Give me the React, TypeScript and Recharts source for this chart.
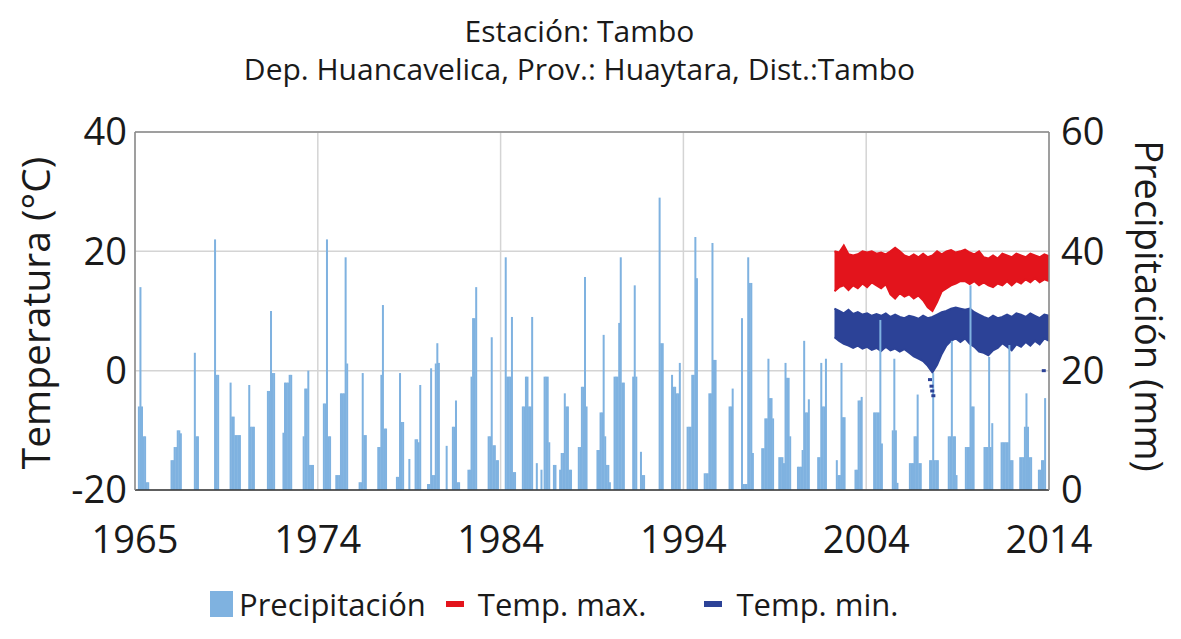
import { ComposedChart, Bar, Area, Scatter, XAxis, YAxis, CartesianGrid, ReferenceLine } from "recharts"

const W = 1181
const H = 639

// axis ticks
const xTickYears = [1965, 1974.8, 1984.6, 1994.4, 2004.2, 2014]
const xTickLabels = ["1965", "1974", "1984", "1994", "2004", "2014"]
const tempTicks = [-20, 0, 20, 40]
const rainTicks = [0, 20, 40, 60]

// rainy seasons: first month of each cluster, then monthly precipitation (mm)
const rainStart = [
  "1965-03", "1966-12", "1968-03", "1969-04", "1970-02", "1971-02", "1972-02", "1972-12",
  "1974-01", "1975-02", "1975-10", "1977-01", "1978-01", "1979-01", "1979-09", "1980-01",
  "1980-09", "1981-09", "1982-01", "1982-11", "1983-12", "1984-11", "1985-10", "1986-07",
  "1987-06", "1987-10", "1988-10", "1989-10", "1990-09", "1991-09", "1992-02", "1993-02",
  "1993-10", "1994-08", "1995-07", "1996-11", "1997-07", "1998-08", "1999-07", "2000-07",
  "2001-08", "2002-08", "2003-08", "2004-08", "2005-08", "2006-07", "2007-08", "2008-08",
  "2009-07", "2010-07", "2011-06", "2012-06", "2013-06",
]
const rainMm = [
  [14, 34, 14, 9, 9, 1.3, 1.3],
  [5, 5, 7.2, 7.2, 10, 10, 9.5],
  [23, 9, 9],
  [42, 19.3, 19.3],
  [18, 12.3, 12.3, 9.2, 9.2, 9.2, 9.2],
  [17.6, 10.6, 10.6, 10.6],
  [16.6, 16.6, 30, 19.6, 19.6],
  [9.6, 18, 18, 18, 19.3, 19.3],
  [9, 17, 17, 20, 4.2, 4.2, 4.2],
  [14.5, 14.5, 42, 9, 9],
  [2.5, 2.5, 2.5, 16.2, 16.2, 16.2, 39, 21.2],
  [1.3, 1.3, 19.6, 9.2, 9.2],
  [7.2, 7.2, 19.3, 31, 10.3, 10.3],
  [2.2, 2.2, 19.6, 11.4, 11.4],
  [5.2],
  [8.5, 8.5, 8, 17.6],
  [1, 1, 20.4, 2.5, 2.5, 21.2, 24.6, 21.3],
  [7.4],
  [10.6, 10.6, 15, 1.3, 1.3],
  [3.4, 3.4, 19, 28.8, 28.8, 34],
  [9, 9, 25.6, 7.5, 7.5, 5, 5],
  [39, 19, 19, 19, 29, 3, 3],
  [14, 14, 19, 19, 14, 14, 29],
  [4.5, 0, 0, 3.4, 0, 19, 19, 19, 8],
  [4.2, 4.2],
  [3.4, 6.2, 6.2, 16.2, 14, 14, 3.4, 3.4],
  [7.2, 7.2, 17.3, 17.3, 35.7, 14],
  [6.7, 6.7, 13, 13, 26, 9, 4.2, 4.2, 1.3],
  [19, 19, 19, 28, 39, 18, 18],
  [19, 34.3, 19],
  [6.4, 2.5, 2.5],
  [49, 24.6, 24.6],
  [19.3, 17.3, 17.3, 16.2, 16.2, 21.3],
  [10.6, 10.6, 10.6, 19.3, 19.3, 42.4, 35.5],
  [2.8, 2.8, 2.8, 16.2, 16.2, 41.4, 21.8, 21.8],
  [14, 14, 17],
  [28.8, 1, 1, 1, 39, 34.7, 34.7, 6.2],
  [7, 7, 12, 12, 22, 15.4, 15.4, 12],
  [5.5, 5.5, 5.5, 4.5, 21.3, 18.8, 18.8, 9],
  [3.9, 3.9, 3.9, 6.7, 25, 13, 13, 15.2],
  [5.5, 5.5, 21.3, 14, 14, 22],
  [5, 2.5, 2.5, 21.3, 12.2, 12.2],
  [3.4, 3.4, 15, 15, 15.6],
  [13, 13, 13, 13, 28.5, 7.8],
  [10, 22, 10, 1.2],
  [4.5, 4.5, 4.5, 9, 9, 16, 4.5, 4.5],
  [5, 5, 19.6, 5, 5, 5],
  [9, 9, 25, 9, 9, 2.5],
  [7.2, 7.2, 7.2, 34.3, 14, 14],
  [7.2, 7.2, 7.2, 22.3, 7.2, 11.2],
  [8, 8, 8, 8, 8, 24.3, 5, 5],
  [5.5, 5.5, 5.5, 10.6, 16.2, 10.6, 5.5, 5.5],
  [3.4, 3.4, 5, 5, 15.4],
]

// temperature envelope, quarterly (°C)
const tempYears = [
  2002.5, 2002.75, 2003, 2003.25, 2003.5, 2003.75, 2004, 2004.25, 2004.5, 2004.75,
  2005, 2005.25, 2005.5, 2005.75, 2006, 2006.25, 2006.5, 2006.75, 2007, 2007.25,
  2007.5, 2007.75, 2008, 2008.25, 2008.5, 2008.75, 2009, 2009.25, 2009.5, 2009.75,
  2010, 2010.25, 2010.5, 2010.75, 2011, 2011.25, 2011.5, 2011.75, 2012, 2012.25,
  2012.5, 2012.75, 2013, 2013.25, 2013.5, 2013.75, 2014,
]
const tmaxHi = [
  20, 19.8, 21, 19.5, 19.3, 19.5, 20, 19.8, 20, 19.6,
  19.8, 19.5, 20, 20.6, 20, 19.3, 19, 19.5, 19, 19.6,
  19, 19.3, 20, 19.5, 20, 20.2, 19.8, 20, 20.3, 19.8,
  19.5, 20, 19, 18.8, 19.3, 18.8, 19.6, 19.3, 19, 19.6,
  19.3, 19, 19.6, 19.3, 19, 19.5, 19.2,
]
const tmaxLo = [
  13.3, 14, 14.3, 13.5, 14.3, 13.8, 14.6, 14, 14.8, 14.3,
  13.8, 14.5, 12.8, 12.1, 13, 12.4, 12.8, 12.1, 12.6, 11.8,
  10.6, 10, 11.5, 13.3, 13.8, 14.3, 14.6, 15, 15, 14.5,
  15, 14.3, 14.8, 14.3, 14, 14.6, 14.3, 15, 14.3, 15,
  14.6, 15.3, 14.8, 15.5, 14.8, 15.3, 15,
]
const tminHi = [
  10.4, 10, 9.6, 10.2, 9.5, 9.8, 9.4, 9.6, 9.2, 9.5,
  9.2, 9.6, 9, 9.4, 9, 8.8, 9.2, 9, 8.7, 9.2,
  8.8, 9, 9.4, 9.8, 10, 10.4, 10.6, 10.4, 10.2, 10.4,
  9.8, 9.4, 9, 8.7, 9.2, 8.8, 9, 9.4, 9, 9.6,
  9.4, 9, 9.6, 9.2, 8.8, 9.4, 9.2,
]
const tminLo = [
  5.6, 5, 4.5, 4.2, 3.8, 4.2, 3.7, 4, 3.5, 3.8,
  3.3, 4, 3.4, 3.7, 3.2, 3.6, 3, 2.4, 2, 1.6,
  0.8, -0.3, 1, 2.8, 4.2, 5, 5.4, 4.8, 5.4, 4.5,
  4, 3.2, 3, 2.6, 3.4, 3.8, 4.6, 4, 3.4, 4.4,
  4, 4.8, 4.2, 5, 4.4, 5.4, 5,
]
// isolated cold nights below the Tmin band
const tminOutYears = [2007.62, 2007.7, 2007.74, 2007.8, 2013.72]
const tminOutVals = [-1.5, -2.6, -3.4, -4.2, 0]

const RAIN = "#7fb2e0"
const RED = "#e3141c"
const NAVY = "#2c4297"
const FONT = "'Open Sans', sans-serif"

const rainData = rainStart.flatMap((s, i) => {
  const [y, m] = s.split("-").map(Number)
  const k0 = (y - 1965) * 12 + (m - 1)
  return rainMm[i].map((mm, j) => ({ t: 1965 + (k0 + j + 0.5) / 12, rain: mm }))
})

const tempData = tempYears.map((t, i) => ({
  t,
  max: [tmaxLo[i], tmaxHi[i]],
  min: [tminLo[i], tminHi[i]],
}))

const outData = tminOutYears.map((t, i) => ({ t, v: tminOutVals[i] }))

// bars are thinner than a pixel on this axis; widen them around their centre
const RainBar = (p: any) =>
  p.height > 0 ? <rect x={p.x + p.width / 2 - 1} y={p.y} width={2} height={p.height} fill={RAIN} /> : null

const Dot = (p: any) => <rect x={p.cx - 2} y={p.cy - 1.5} width={4} height={3} fill={NAVY} />

export default function App() {
  const tick = { fontSize: 38, fill: "#1a1a1a", fontFamily: FONT }
  return (
    <div style={{ position: "absolute", left: 0, top: 0, width: W, height: H, background: "#fff", fontFamily: FONT, color: "#1a1a1a" }}>
      <div style={{ position: "absolute", left: 0, width: W - 22, top: 12, textAlign: "center", fontSize: 30, lineHeight: "38px" }}>
        Estación: Tambo
        <br />
        Dep. Huancavelica, Prov.: Huaytara, Dist.:Tambo
      </div>

      <ComposedChart
        width={W}
        height={H}
        data={rainData}
        margin={{ top: 132, right: 62, left: 65, bottom: 89 }}
      >
        <CartesianGrid yAxisId="temp" stroke="#d4d4d4" strokeWidth={1.5} />
        <XAxis
          dataKey="t"
          type="number"
          domain={[1965, 2014]}
          ticks={xTickYears}
          tickFormatter={(v: number) => xTickLabels[xTickYears.indexOf(v)]}
          tickLine={false}
          axisLine={{ stroke: "#333", strokeWidth: 1.5 }}
          tick={tick}
          tickMargin={30}
          height={60}
          interval={0}
        />
        <YAxis
          yAxisId="temp"
          orientation="left"
          domain={[-20, 40]}
          ticks={tempTicks}
          tickLine={false}
          axisLine={{ stroke: "#8a8a8a", strokeWidth: 1.5 }}
          tick={tick}
          width={70}
          interval={0}
        />
        <YAxis
          yAxisId="rain"
          orientation="right"
          domain={[0, 60]}
          ticks={rainTicks}
          tickLine={false}
          axisLine={{ stroke: "#8a8a8a", strokeWidth: 1.5 }}
          tick={tick}
          tickMargin={6}
          width={70}
          interval={0}
        />
        <ReferenceLine yAxisId="temp" y={40} stroke="#8a8a8a" strokeWidth={1.5} />
        <Bar yAxisId="rain" dataKey="rain" fill={RAIN} shape={RainBar} isAnimationActive={false} />
        <Area
          yAxisId="temp"
          data={tempData}
          dataKey="max"
          type="linear"
          stroke={RED}
          strokeWidth={2}
          fill={RED}
          fillOpacity={1}
          dot={false}
          activeDot={false}
          isAnimationActive={false}
        />
        <Area
          yAxisId="temp"
          data={tempData}
          dataKey="min"
          type="linear"
          stroke={NAVY}
          strokeWidth={2}
          fill={NAVY}
          fillOpacity={1}
          dot={false}
          activeDot={false}
          isAnimationActive={false}
        />
        <Scatter yAxisId="temp" data={outData} dataKey="v" shape={Dot} isAnimationActive={false} />
      </ComposedChart>

      <div style={{ position: "absolute", left: 34, top: 313, transform: "translate(-50%, -50%) rotate(-90deg)", fontSize: 39, whiteSpace: "nowrap" }}>
        Temperatura (°C)
      </div>
      <div style={{ position: "absolute", left: 1150, top: 306, transform: "translate(-50%, -50%) rotate(90deg)", fontSize: 38, whiteSpace: "nowrap" }}>
        Precipitación (mm)
      </div>

      <div style={{ position: "absolute", left: 210, top: 583, display: "flex", alignItems: "center", fontSize: 31, whiteSpace: "nowrap" }}>
        <span style={{ display: "inline-block", width: 23, height: 26, background: RAIN, marginRight: 6 }} />
        <span>Precipitación</span>
        <span style={{ display: "inline-block", width: 18, height: 6, background: RED, marginLeft: 20, marginRight: 14 }} />
        <span>Temp. max.</span>
        <span style={{ display: "inline-block", width: 18, height: 6, background: NAVY, marginLeft: 58, marginRight: 14 }} />
        <span>Temp. min.</span>
      </div>
    </div>
  )
}
